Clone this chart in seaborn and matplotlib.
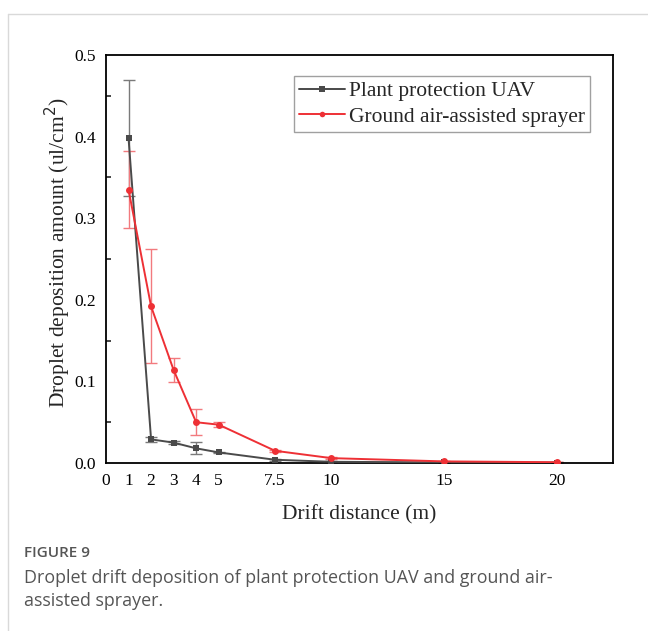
import numpy as np
import pandas as pd
import matplotlib
matplotlib.use("Agg")
import matplotlib.pyplot as plt
import seaborn as sns
from matplotlib.lines import Line2D

distance = [1, 2, 3, 4, 5, 7.5, 10, 15, 20]
uav_mean = [0.398, 0.029, 0.025, 0.018, 0.013, 0.004, 0.0015, 0.0008, 0.0005]
uav_err = [0.071, 0.0035, 0.0015, 0.0072, 0.001, 0.001, 0.0005, 0.0003, 0.0002]
ground_mean = [0.335, 0.192, 0.114, 0.050, 0.047, 0.015, 0.006, 0.002, 0.001]
ground_err = [0.047, 0.070, 0.015, 0.016, 0.003, 0.001, 0.001, 0.0005, 0.0003]
series_names = ["Plant protection UAV", "Ground air-assisted sprayer"]
x_ticks = [0, 1, 2, 3, 4, 5, 7.5, 10, 15, 20]
x_ticklabels = ["0", "1", "2", "3", "4", "5", "7.5", "10", "15", "20"]
y_ticks = [0.0, 0.1, 0.2, 0.3, 0.4, 0.5]

df = pd.concat([
    pd.DataFrame({"x": distance, "y": uav_mean, "err": uav_err, "s": series_names[0]}),
    pd.DataFrame({"x": distance, "y": ground_mean, "err": ground_err, "s": series_names[1]}),
])

sns.set_style("white")
plt.rcParams["font.family"] = ["Liberation Serif", "DejaVu Serif"]

fig = plt.figure(figsize=(6.48, 6.31), dpi=100)
ax = fig.add_axes([0.1636, 0.2662, 0.946 - 0.1636, 0.9128 - 0.2662])

colors = {series_names[0]: "#4a4a4a", series_names[1]: "#ee3035"}
err_colors = {series_names[0]: "#7a7a7a", series_names[1]: "#f27a7e"}
markers = {series_names[0]: "s", series_names[1]: "o"}

for name in series_names:
    d = df[df["s"] == name]
    ax.errorbar(d["x"], d["y"], yerr=d["err"], fmt="none", ecolor=err_colors[name],
                elinewidth=1.0, capsize=4, capthick=1.0, zorder=2)

sns.lineplot(data=df, x="x", y="y", hue="s", style="s", palette=colors,
             markers=markers, dashes=False, markersize=5, linewidth=1.4,
             markeredgewidth=0, ax=ax, legend=False, zorder=3)

ax.set_xlim(0, 22.5)
ax.set_ylim(0, 0.5)
ax.set_xticks(x_ticks)
ax.set_xticklabels(x_ticklabels)
ax.set_yticks(y_ticks)
ax.set_yticklabels([f"{v:.1f}" for v in y_ticks])
ax.set_yticks(np.arange(0.05, 0.5, 0.1), minor=True)
ax.tick_params(axis="both", which="major", direction="in", length=6, width=1.2,
               labelsize=12.5, colors="black", top=False, right=False)
ax.tick_params(axis="y", which="major", pad=7)
ax.tick_params(axis="x", which="major", pad=7)
ax.tick_params(axis="y", which="minor", direction="in", length=3.5, width=1.2, left=True)
for sp in ax.spines.values():
    sp.set_linewidth(1.3)
    sp.set_color("black")

ax.set_xlabel("Drift distance (m)", fontsize=15.5)
ax.set_ylabel("Droplet deposition amount (ul/cm$^2$)", fontsize=15.5)
ax.xaxis.set_label_coords(0.5, -0.102)
ax.yaxis.set_label_coords(-0.065, 0.515)

handles = [Line2D([0], [0], color=colors[n], marker=markers[n], markersize=4,
                  linewidth=1.4, markeredgewidth=0) for n in series_names]
leg = ax.legend(handles, series_names, loc="upper right", bbox_to_anchor=(0.955, 0.9485),
                fontsize=15.5, frameon=True, fancybox=False, handlelength=2.1,
                borderpad=0.25, labelspacing=0.25, handletextpad=0.2, borderaxespad=0)
leg.get_frame().set_edgecolor("#888888")
leg.get_frame().set_linewidth(1.0)

# card frame
fig.add_artist(Line2D([8 / 648, 1.0], [1 - 14 / 631, 1 - 14 / 631], color="#d9d9d9", linewidth=1.0))
fig.add_artist(Line2D([8 / 648, 8 / 648], [1 - 14 / 631, 0.0], color="#d9d9d9", linewidth=1.0))

cap_font = ["Open Sans", "DejaVu Sans"]
fig.text(24 / 648, 1 - 553 / 631, "FIGURE 9", fontsize=11, color="#555555",
         family=cap_font, fontweight="semibold", va="center")
fig.text(24 / 648, 1 - 578 / 631, "Droplet drift deposition of plant protection UAV and ground air-",
         fontsize=12.9, color="#555555", family=cap_font, va="center")
fig.text(24 / 648, 1 - 601 / 631, "assisted sprayer.", fontsize=12.9, color="#555555",
         family=cap_font, va="center")

fig.savefig("out.png", dpi=100)
